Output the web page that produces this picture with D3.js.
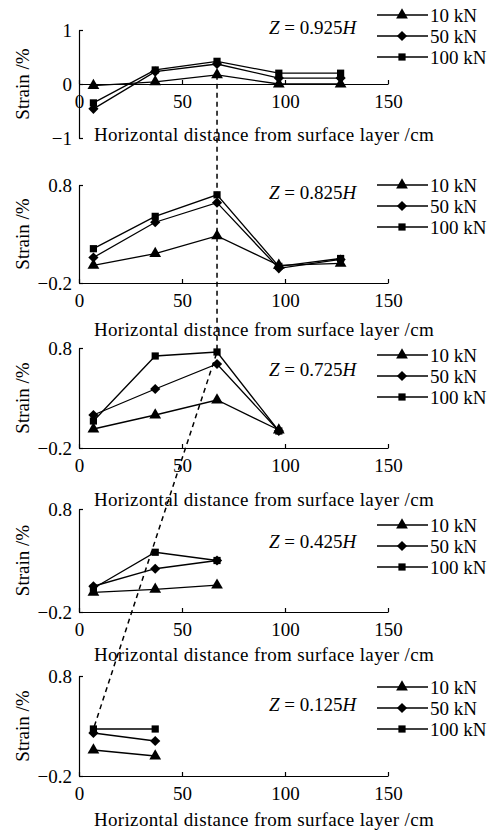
<!DOCTYPE html>
<html>
<head>
<meta charset="utf-8">
<script src="https://cdn.jsdelivr.net/npm/d3@7"></script>
<style>
  body { margin: 0; background: #fff; }
</style>
</head>
<body>
<svg width="498" height="832" font-family="Liberation Serif, Times New Roman, serif"></svg>
<script>
// horizontal distance of the gauges (cm)
const distance = [7, 37, 67, 97, 127];
const loads = ["10 kN", "50 kN", "100 kN"];
const depths = ["0.925", "0.825", "0.725", "0.425", "0.125"];

// strain (%) per depth, one array per load
const z925_10 = [-0.03, 0.04, 0.17, 0.0, 0.0];
const z925_50 = [-0.46, 0.23, 0.37, 0.11, 0.11];
const z925_100 = [-0.35, 0.26, 0.42, 0.2, 0.2];

const z825_10 = [-0.02, 0.10, 0.28, -0.02, 0.0];
const z825_50 = [0.06, 0.42, 0.62, -0.05, 0.04];
const z825_100 = [0.15, 0.48, 0.70, -0.03, 0.05];

const z725_10 = [-0.01, 0.13, 0.28, -0.02];
const z725_50 = [0.13, 0.39, 0.64, -0.03];
const z725_100 = [0.07, 0.72, 0.76, -0.03];

const z425_10 = [-0.01, 0.02, 0.06];
const z425_50 = [0.05, 0.22, 0.30];
const z425_100 = [0.03, 0.38, 0.30];

const z125_10 = [0.06, 0.0];
const z125_50 = [0.23, 0.15];
const z125_100 = [0.27, 0.27];

const strains = [
  [z925_10, z925_50, z925_100],
  [z825_10, z825_50, z825_100],
  [z725_10, z725_50, z725_100],
  [z425_10, z425_50, z425_100],
  [z125_10, z125_50, z125_100]
];

// dashed trend line through the peaks: [panel, distance, strain]
const trendPoints = [[0, 67, 0.17], [2, 67, 0.76], [4, 7, 0.27]];

// layout of each panel (pixels)
const panels = [
  { top: 30, bottom: 138, yDomain: [-1, 1], yTicks: [-1, 0, 1], fmt: d3.format("d"), xAt: 0, title: 141, legend: 15, zY: 34 },
  { top: 185, bottom: 283, yDomain: [-0.2, 0.8], yTicks: [-0.2, 0.8], fmt: d3.format(".1f"), xAt: -0.2, title: 336, legend: 185, zY: 199 },
  { top: 348, bottom: 448, yDomain: [-0.2, 0.8], yTicks: [-0.2, 0.8], fmt: d3.format(".1f"), xAt: -0.2, title: 506, legend: 355, zY: 376 },
  { top: 509, bottom: 612, yDomain: [-0.2, 0.8], yTicks: [-0.2, 0.8], fmt: d3.format(".1f"), xAt: -0.2, title: 661, legend: 525, zY: 548 },
  { top: 676, bottom: 776, yDomain: [-0.2, 0.8], yTicks: [-0.2, 0.8], fmt: d3.format(".1f"), xAt: -0.2, title: 826, legend: 687, zY: 711 }
];

const FS = 19;
const svg = d3.select("svg");
const x = d3.scaleLinear().domain([0, 150]).range([79, 388]);

const symbols = [
  d3.symbol().type(d3.symbolTriangle).size(60),
  d3.symbol().type(d3.symbolSquare).size(52),
  d3.symbol().type(d3.symbolSquare).size(52)
];
const symbolRotate = [0, 45, 0];

const line = d3.line();
const yScales = [];

panels.forEach((p, i) => {
  const y = d3.scaleLinear().domain(p.yDomain).range([p.bottom, p.top]);
  yScales.push(y);
  const g = svg.append("g");

  // x axis with inward ticks
  const xAxis = g.append("g")
    .attr("transform", `translate(0,${y(p.xAt)})`)
    .call(d3.axisBottom(x).tickValues([0, 50, 100, 150]).tickSizeInner(-4).tickSizeOuter(0).tickPadding(11));
  // y axis with inward ticks
  const yAxis = g.append("g")
    .attr("transform", `translate(${x(0)},0)`)
    .call(d3.axisLeft(y).tickValues(p.yTicks).tickFormat(p.fmt).tickSizeInner(-4).tickSizeOuter(0).tickPadding(7));

  [xAxis, yAxis].forEach(a => {
    a.attr("font-family", null).attr("font-size", FS);
    a.selectAll("path, line").attr("stroke", "#000").attr("stroke-width", 1.2);
    a.selectAll("text").attr("fill", "#000");
  });

  g.append("text")
    .attr("x", 264).attr("y", p.title)
    .attr("text-anchor", "middle").attr("font-size", FS)
    .attr("letter-spacing", 0.35)
    .text("Horizontal distance from surface layer /cm");

  g.append("text")
    .attr("transform", `translate(22,${(p.top + p.bottom) / 2}) rotate(-90)`)
    .attr("text-anchor", "middle").attr("dominant-baseline", "central")
    .attr("font-size", FS)
    .text("Strain /%");

  const z = g.append("text").attr("x", 269).attr("y", p.zY).attr("font-size", FS);
  z.append("tspan").attr("font-style", "italic").text("Z");
  z.append("tspan").text(` = ${depths[i]}`);
  z.append("tspan").attr("font-style", "italic").text("H");

  // series
  strains[i].forEach((vals, s) => {
    const pts = vals.map((v, k) => [x(distance[k]), y(v)]);
    g.append("path")
      .attr("d", line(pts))
      .attr("fill", "none").attr("stroke", "#000").attr("stroke-width", 1.3);
    g.selectAll(null).data(pts).enter().append("path")
      .attr("d", symbols[s])
      .attr("transform", d => `translate(${d[0]},${d[1]}) rotate(${symbolRotate[s]})`)
      .attr("fill", "#000");
  });

  // legend
  loads.forEach((name, s) => {
    const ly = p.legend + s * 21;
    g.append("line").attr("x1", 377).attr("x2", 428).attr("y1", ly).attr("y2", ly)
      .attr("stroke", "#000").attr("stroke-width", 1.3);
    g.append("path").attr("d", symbols[s])
      .attr("transform", `translate(402,${ly}) rotate(${symbolRotate[s]})`)
      .attr("fill", "#000");
    g.append("text").attr("x", 430).attr("y", ly)
      .attr("dominant-baseline", "central").attr("font-size", FS)
      .text(name);
  });
});

// dashed trend line across panels
svg.append("path")
  .attr("d", line(trendPoints.map(([pi, d, v]) => [x(d), yScales[pi](v)])))
  .attr("fill", "none").attr("stroke", "#000").attr("stroke-width", 1.5)
  .attr("stroke-dasharray", "5,4");
</script>
</body>
</html>
